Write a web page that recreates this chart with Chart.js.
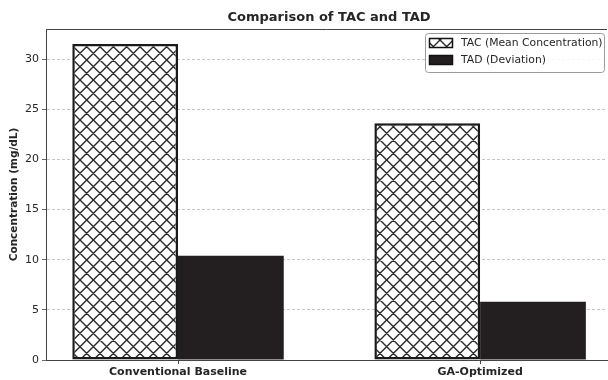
<!DOCTYPE html>
<html>
<head>
<meta charset="utf-8">
<script src="https://cdn.jsdelivr.net/npm/chart.js@4"></script>
<style>
  html, body { margin: 0; padding: 0; background: #fff; }
  #wrap { width: 608px; height: 380px; }
</style>
</head>
<body>
<div id="wrap"><canvas id="tac-tad"></canvas></div>
<script>
// values
var categories = ["Conventional Baseline", "GA-Optimized"];
var tacValues = [31.5, 23.6];
var tadValues = [10.4, 5.8];
var yTickValues = [0, 5, 10, 15, 20, 25, 30];
var seriesLabels = ["TAC (Mean Concentration)", "TAD (Deviation)"];
var chartTitle = "Comparison of TAC and TAD";
var yTitle = "Concentration (mg/dL)";

var FONT = "'DejaVu Sans', sans-serif";
var INK = "#262626";
var DARK = "#231f20";

// cross hatch like matplotlib 'x'
function makeHatch() {
	var c = document.createElement("canvas");
	c.width = 40;
	c.height = 40;
	var g = c.getContext("2d");
	var p = 40 / 3;
	g.fillStyle = "#ffffff";
	g.fillRect(0, 0, 40, 40);
	g.strokeStyle = "#2a2a2a";
	g.lineWidth = 1.4;
	g.beginPath();
	for (var k = -4; k <= 4; k++) {
		g.moveTo(k * p, 0);
		g.lineTo(k * p + 40, 40);
		g.moveTo(k * p, 40);
		g.lineTo(k * p + 40, 0);
	}
	g.stroke();
	return g.createPattern(c, "repeat");
}
var hatch = makeHatch();

// title, top spine and framed legend, drawn like matplotlib does
var decorations = {
	id: "decorations",
	afterDraw: function(chart) {
		var ctx = chart.ctx;
		var area = chart.chartArea;
		var xs = chart.scales.x;
		ctx.save();

		// top spine
		ctx.strokeStyle = "#444";
		ctx.lineWidth = 1;
		ctx.beginPath();
		ctx.moveTo(area.left, area.top + 0.5);
		ctx.lineTo(area.right, area.top + 0.5);
		ctx.stroke();

		// title centred over the full axes range
		var axesRight = xs.getPixelForValue(1.437);
		ctx.fillStyle = INK;
		ctx.font = "bold 13px " + FONT;
		ctx.textAlign = "center";
		ctx.textBaseline = "middle";
		ctx.fillText(chartTitle, (area.left + axesRight) / 2, 18);

		// legend
		var bx = 425, by = 33, bw = 179, bh = 39;
		ctx.globalAlpha = 0.85;
		ctx.fillStyle = "#fff";
		ctx.beginPath();
		ctx.roundRect(bx + 0.5, by + 0.5, bw, bh, 3);
		ctx.fill();
		ctx.globalAlpha = 1;
		ctx.strokeStyle = "#9a9a9a";
		ctx.stroke();

		var fills = [hatch, DARK];
		ctx.font = "10.8px " + FONT;
		ctx.textAlign = "left";
		for (var i = 0; i < seriesLabels.length; i++) {
			var ry = by + 5 + i * 17;
			ctx.fillStyle = fills[i];
			ctx.fillRect(bx + 4, ry, 24, 10);
			ctx.strokeStyle = "#111";
			ctx.lineWidth = 1.5;
			ctx.strokeRect(bx + 4.5, ry + 0.5, 23, 9);
			ctx.fillStyle = INK;
			ctx.fillText(seriesLabels[i], bx + 36, ry + 5.5);
		}
		ctx.restore();
	}
};

var ctx = document.getElementById("tac-tad");
new Chart(ctx, {
	type: "bar",
	data: {
		datasets: [{
			label: seriesLabels[0],
			backgroundColor: hatch,
			borderColor: "#1a1a1a",
			borderWidth: 2.5,
			borderSkipped: false,
			data: categories.map(function(c, i) { return { x: i, y: tacValues[i] }; }),
		},
		{
			label: seriesLabels[1],
			backgroundColor: DARK,
			borderColor: DARK,
			borderWidth: 0,
			data: categories.map(function(c, i) { return { x: i, y: tadValues[i] }; }),
		}],
	},
	options: {
		responsive: true,
		maintainAspectRatio: false,
		animation: false,
		categoryPercentage: 0.7,
		barPercentage: 1,
		layout: {
			padding: { left: 0, right: 1, top: 29, bottom: 0 }
		},
		plugins: {
			legend: { display: false },
			title: { display: false },
			tooltip: { enabled: false }
		},
		scales: {
			x: {
				type: "linear",
				offset: false,
				min: -0.437,
				max: 1.42,
				afterBuildTicks: function(scale) {
					scale.ticks = categories.map(function(c, i) { return { value: i }; });
				},
				afterFit: function(scale) {
					scale.height = 20;
				},
				grid: {
					offset: false,
					drawOnChartArea: false,
					drawTicks: true,
					tickLength: 4,
					tickColor: "#444",
				},
				border: { color: "#444", width: 1 },
				ticks: {
					padding: 2,
					color: INK,
					font: { family: FONT, size: 11, weight: "bold" },
					callback: function(v) { return categories[v]; }
				}
			},
			y: {
				min: 0,
				max: 33,
				afterBuildTicks: function(scale) {
					scale.ticks = yTickValues.map(function(v) { return { value: v }; });
				},
				afterFit: function(scale) {
					scale.width = 46;
				},
				title: {
					display: true,
					text: yTitle,
					color: INK,
					font: { family: FONT, size: 10.5, weight: "bold" },
					padding: { top: 8, bottom: 0 }
				},
				grid: {
					color: "#b8b8b8",
					lineWidth: 0.8,
					tickLength: 4,
					tickColor: "#444",
				},
				border: { color: "#444", width: 1, dash: [3, 2] },
				ticks: {
					padding: 3,
					color: INK,
					font: { family: FONT, size: 11 }
				}
			}
		}
	},
	plugins: [decorations]
});
</script>
</body>
</html>
